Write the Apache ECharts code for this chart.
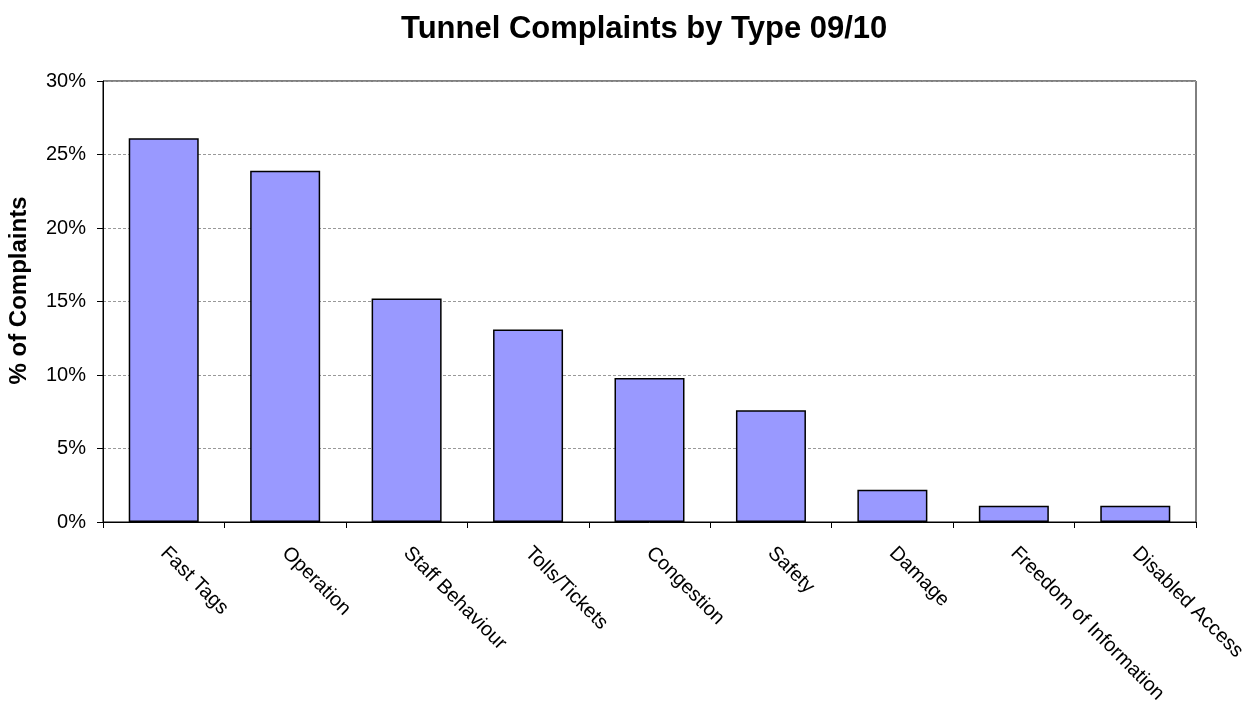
<!DOCTYPE html>
<html>
<head>
<meta charset="utf-8">
<script src="https://cdn.jsdelivr.net/npm/echarts@6/dist/echarts.min.js"></script>
<style>
html, body { margin: 0; padding: 0; background: #fff; }
#chart { width: 1253px; height: 704px; }
</style>
</head>
<body>
<div id="chart"></div>
<script>
// complaint types and their share (%)
var categories = ['Fast Tags', 'Operation', 'Staff Behaviour', 'Tolls/Tickets', 'Congestion',
  'Safety', 'Damage', 'Freedom of Information', 'Disabled Access'];
var shares = [26.1, 23.9, 15.2, 13.1, 9.8, 7.6, 2.2, 1.1, 1.1];

var chart = echarts.init(document.getElementById('chart'));
var font = 'Liberation Sans, Arial, sans-serif';

var option = {
  animation: false,
  title: {
    text: 'Tunnel Complaints by Type 09/10',
    left: 396,
    top: 9,
    textStyle: { fontFamily: font, fontSize: 31, fontWeight: 'bold', color: '#000' }
  },
  grid: {
    left: 103,
    right: 57,
    top: 81,
    bottom: 182,
    outerBoundsMode: 'none',
    containLabel: false,
    show: true,
    borderColor: '#000',
    borderWidth: 1
  },
  xAxis: {
    type: 'category',
    data: categories,
    axisLine: { lineStyle: { color: '#000' } },
    axisTick: { show: true, length: 6, lineStyle: { color: '#000' } },
    axisLabel: {
      rotate: -45,
      margin: 28,
      fontFamily: font,
      fontSize: 20,
      color: '#000',
      interval: 0
    }
  },
  yAxis: {
    type: 'value',
    min: 0,
    max: 30,
    interval: 5,
    name: '% of Complaints',
    nameLocation: 'middle',
    nameGap: 72,
    nameTextStyle: { fontFamily: font, fontSize: 24, fontWeight: 'bold', color: '#000', padding: [0, 0, 0, 22] },
    axisLine: { show: true, lineStyle: { color: '#000' } },
    axisTick: { show: true, length: 6, lineStyle: { color: '#000' } },
    axisLabel: {
      formatter: '{value}%',
      fontFamily: font,
      fontSize: 20,
      color: '#000',
      margin: 17
    },
    splitLine: { show: true, lineStyle: { color: '#999', type: [3, 2], width: 1 } }
  },
  series: [{
    type: 'bar',
    data: shares,
    barWidth: 70,
    itemStyle: { color: '#9999ff', borderColor: '#000', borderWidth: 1.5 }
  }]
};

chart.setOption(option);
</script>
</body>
</html>
